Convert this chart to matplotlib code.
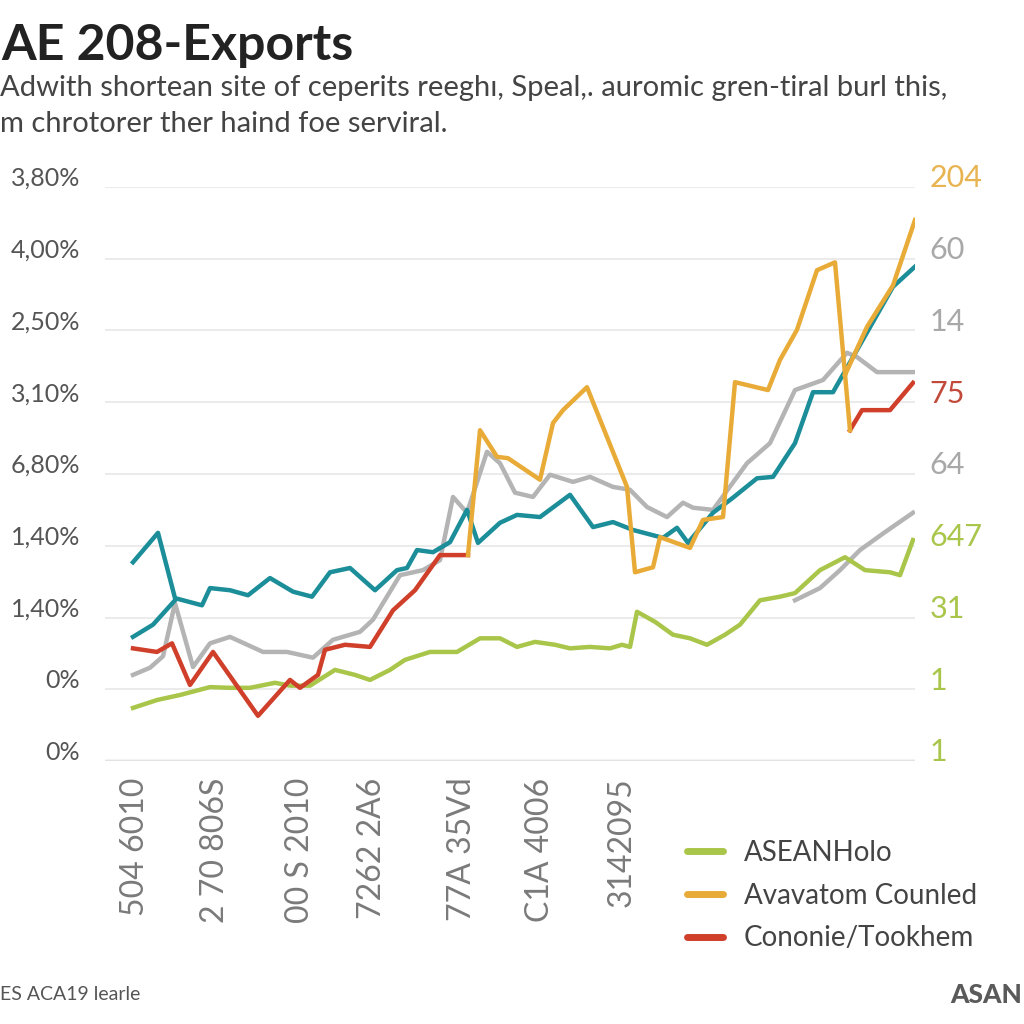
import numpy as np
import matplotlib
matplotlib.use('Agg')
import matplotlib.pyplot as plt
from matplotlib.lines import Line2D

plt.rcParams['font.family'] = ['Lato', 'DejaVu Sans']

# --- data (x = period, y on a 0-80 scale) ---
teal_x = [2.8, 5.3, 7.0, 9.7, 10.5, 12.5, 14.3, 16.5, 18.8, 20.7, 22.5, 24.5, 27.0, 29.2, 30.2,
          31.2, 32.8, 34.5, 36.2, 37.3, 39.5, 41.2, 43.5, 46.5, 48.8, 50.8, 52.8, 55.8, 57.2, 58.3,
          60.8, 62.8, 65.2, 66.8, 69.0, 70.8, 72.8, 74.8, 78.8, 81.0]
teal_y = [27.7, 31.8, 22.7, 21.7, 24.1, 23.8, 23.1, 25.5, 23.6, 22.9, 26.3, 26.9, 23.8, 26.6, 26.9,
          29.4, 29.1, 30.5, 35.0, 30.4, 33.2, 34.3, 34.0, 37.1, 32.6, 33.3, 32.2, 31.1, 32.5, 30.4,
          34.6, 36.7, 39.4, 39.6, 44.3, 51.4, 51.4, 56.3, 66.1, 68.9]
teal2_x = [2.8, 4.8, 7.0]
teal2_y = [17.3, 19.0, 22.4]

gray_x = [2.8, 4.5, 5.8, 7.0, 8.8, 10.5, 12.5, 15.8, 18.2, 20.8, 22.8, 25.5, 26.8, 29.5, 31.8,
          33.5, 34.8, 36.2, 38.2, 39.5, 41.0, 42.8, 44.5, 46.8, 48.5, 50.8, 52.5, 54.2, 56.2, 57.8,
          58.8, 60.8, 64.2, 66.5, 69.0, 71.8, 74.2, 75.2, 77.2, 80.8]
gray_y = [12.0, 13.0, 14.6, 22.0, 13.1, 16.4, 17.3, 15.2, 15.2, 14.4, 16.9, 18.0, 19.7, 25.9, 26.6,
          28.0, 36.8, 34.6, 43.1, 41.5, 37.4, 36.8, 39.9, 38.9, 39.6, 38.2, 37.8, 35.4, 34.0, 36.0,
          35.3, 35.0, 41.5, 44.3, 51.7, 53.1, 56.9, 56.3, 54.2, 54.2]
gray2_x = [69.0, 71.5, 73.5, 75.5, 78.0, 80.8]
gray2_y = [22.4, 24.1, 26.6, 29.4, 31.9, 34.6]

red_x = [2.8, 5.2, 6.7, 8.5, 10.8, 15.3, 18.5, 19.5, 21.3, 22.0, 24.0, 26.5, 28.8, 31.0, 33.5, 36.3,
         np.nan, 74.5, 75.7, 78.5, 80.8]
red_y = [15.7, 15.2, 16.4, 10.6, 15.2, 6.3, 11.3, 10.2, 12.0, 15.5, 16.2, 15.9, 21.0, 23.8, 28.7, 28.7,
         np.nan, 46.1, 48.9, 48.9, 52.7]

orange_x = [36.3, 37.5, 39.2, 40.3, 43.5, 44.8, 45.8, 48.2, 52.2, 53.0, 54.8, 55.5, 58.5, 59.8, 61.8,
            63.0, 66.3, 67.5, 69.2, 71.2, 73.0, 74.5, np.nan, 74.0, 76.2, 78.8, 81.0]
orange_y = [28.7, 46.1, 42.4, 42.2, 39.2, 47.1, 48.9, 52.1, 38.2, 26.3, 27.0, 31.2, 29.7, 33.6, 34.0,
            52.8, 51.7, 55.9, 60.1, 68.4, 69.5, 46.1, np.nan, 53.8, 60.5, 66.3, 75.4]

green_x = [2.8, 5.2, 7.5, 10.5, 12.5, 14.5, 17.0, 18.5, 20.5, 23.0, 25.0, 26.5, 28.5, 30.0, 32.5,
           35.2, 37.5, 39.5, 41.2, 43.0, 45.0, 46.5, 48.5, 50.5, 51.7, 52.5, 53.2, 55.0, 56.8, 58.5,
           60.2, 62.0, 63.5, 65.5, 67.5, 69.0, 71.5, 74.0, 76.0, 78.5, 79.5, 80.8]
green_y = [7.4, 8.5, 9.2, 10.3, 10.2, 10.2, 10.9, 10.5, 10.5, 12.7, 12.0, 11.3, 12.7, 14.1, 15.2,
           15.2, 17.1, 17.1, 15.9, 16.6, 16.2, 15.7, 15.9, 15.7, 16.2, 15.9, 20.8, 19.4, 17.6, 17.1,
           16.2, 17.6, 19.0, 22.4, 22.9, 23.4, 26.6, 28.4, 26.6, 26.3, 25.9, 30.8]

grid_vals = [0, 10, 20, 30, 40, 50, 60, 70, 80]
left_labels = ['0%', '0%', '1,40%', '1,40%', '6,80%', '3,10%', '2,50%', '4,00%', '3,80%']
right_labels = ['1', '1', '31', '647', '64', '75', '14', '60', '204']

xtick_pos = [3.0, 11.0, 19.5, 26.7, 35.7, 43.5, 51.7]
xtick_labels = ['504 6010', '2 70 806S', '00 S 2010', '7262 2A6', '77A 35Vd', 'C1A 4006', '3142095']

legend_labels = ['ASEANHolo', 'Avavatom Counled', 'Cononie/Tookhem']

# colours
c_teal = '#1b8e99'
c_gray = '#b4b4b4'
c_red = '#cf3f2a'
c_orange = '#e9ab38'
c_green = '#a9c64b'
right_colors = [c_green, c_green, c_green, c_green, '#a8a8a8', '#c24a3a', '#a8a8a8', '#a8a8a8', '#e8b451']

fig = plt.figure(figsize=(10.24, 10.24), dpi=100)
ax = fig.add_axes([105/1024, 1 - 761/1024, 810/1024, 574/1024])

lw = 3.2
ax.plot(gray_x, gray_y, color=c_gray, lw=lw, zorder=2)
ax.plot(gray2_x, gray2_y, color=c_gray, lw=lw, zorder=2)
ax.plot(green_x, green_y, color=c_green, lw=lw, zorder=3)
ax.plot(teal_x, teal_y, color=c_teal, lw=lw, zorder=4)
ax.plot(teal2_x, teal2_y, color=c_teal, lw=lw, zorder=4)
ax.plot(red_x, red_y, color=c_red, lw=lw, zorder=5)
ax.plot(orange_x, orange_y, color=c_orange, lw=lw, zorder=6)

ax.set_xlim(0, 81)
ax.set_ylim(0, 80)
for s in ax.spines.values():
    s.set_visible(False)
ax.set_yticks(grid_vals)
ax.yaxis.grid(True, color='#e8e8e8', lw=1.2)
ax.axhline(0, color='#d0d0d0', lw=2.5, zorder=1)
ax.tick_params(axis='y', length=0, labelleft=False)

ax.set_xticks(xtick_pos)
ax.set_xticklabels(xtick_labels, rotation=90, va='top', ha='center', fontsize=23, color='#7a7a7a')
ax.tick_params(axis='x', length=0, pad=12)

ytr = ax.get_yaxis_transform()
for v, lab in zip(grid_vals, left_labels):
    ax.text(-0.031, v + 1.2, lab, transform=ytr, ha='right', va='center', fontsize=18, color='#555555')
for v, lab, c in zip(grid_vals, right_labels, right_colors):
    ax.text(1.018, v + 1.2, lab, transform=ytr, ha='left', va='center', fontsize=22, color=c)

handles = [Line2D([], [], color=c, lw=5, solid_capstyle='round') for c in [c_green, c_orange, c_red]]
fig.legend(handles, legend_labels, loc='upper left', bbox_to_anchor=(662/1024, 1 - 815/1024),
           frameon=False, fontsize=20, handlelength=1.3, handletextpad=0.75, labelspacing=0.6,
           labelcolor='#444444')

fig.text(0.001, 1 - 45/1024, 'AE 208-Exports', fontsize=36, weight='bold', va='center', color='#222222')
fig.text(0.0, 1 - 88/1024, 'Adwith shortean site of ceperits reeghı, Speal,. auromic gren-tiral burl this,',
         fontsize=21, va='center', color='#444444')
fig.text(0.0, 1 - 124/1024, 'm chrotorer ther haind foe serviral.', fontsize=21, va='center', color='#444444')
fig.text(0.0, 1 - 995/1024, 'ES ACA19 learle', fontsize=14, va='center', color='#555555')
fig.text(950/1024, 1 - 995/1024, 'ASAN', fontsize=19, weight='black', va='center', color='#5a5a5a')

fig.savefig('out.png', dpi=100, facecolor='white')
